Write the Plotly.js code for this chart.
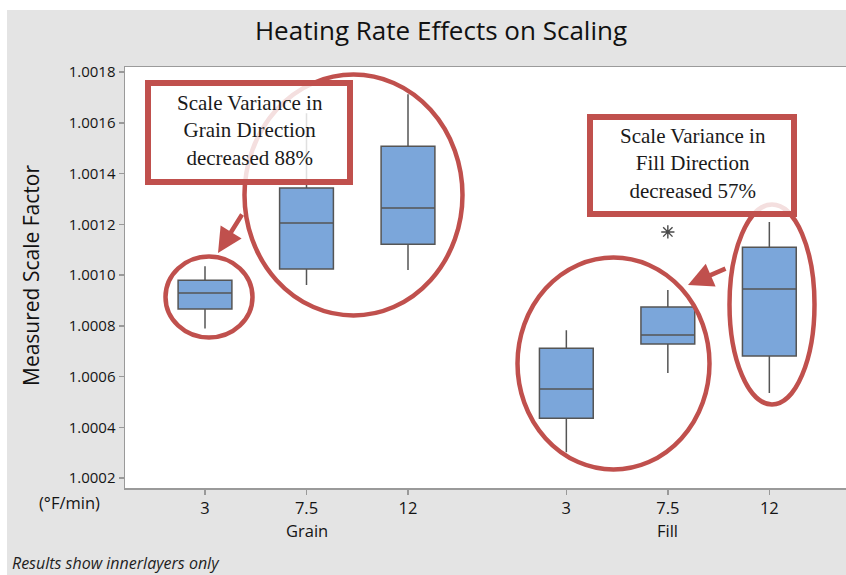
<!DOCTYPE html>
<html>
<head>
<meta charset="utf-8">
<script src="https://cdn.plot.ly/plotly-3.0.1.min.js"></script>
<style>html,body{margin:0;padding:0;background:#fff;}#chart{width:846px;height:575px;}</style>
</head>
<body>
<div id="chart"></div>
<script>
// ---- data ----
const groups = ['Grain', 'Fill'];
const rates = ['3', '7.5', '12'];
const lowerFence = [1.000790, 1.000961, 1.001020, 1.000302, 1.000614, 1.000535];
const q1Values   = [1.000866, 1.001024, 1.001122, 1.000436, 1.000728, 1.000681];
const medians    = [1.000929, 1.001205, 1.001264, 1.000551, 1.000764, 1.000945];
const q3Values   = [1.000980, 1.001343, 1.001508, 1.000712, 1.000874, 1.001110];
const upperFence = [1.001035, 1.001638, 1.001713, 1.000783, 1.000941, 1.001209];
const outlierGroup = ['Fill'];
const outlierRate = ['7.5'];
const outlierValues = [1.00117];
const yTicks = [1.0002, 1.0004, 1.0006, 1.0008, 1.0010, 1.0012, 1.0014, 1.0016, 1.0018];

// ---- layout helpers ----
const groupGap = 3.56;
function pos(g, r) { return groups.indexOf(g) * groupGap + rates.indexOf(r); }
const xs = [], tickText = [];
groups.forEach(g => rates.forEach(r => { xs.push(pos(g, r)); tickText.push(r); }));

// pixel -> paper helpers (plot area: left 125, right 846, top 67, bottom 488)
const L = 125, R = 846, T = 67, B = 488;
const px = v => (v - L) / (R - L);
const py = v => (B - v) / (B - T);

const red = '#c0504d';
const sans = 'Open Sans, Noto Sans, sans-serif';
const yTickFont = {family: sans, size: 15, color: '#141414'};
const xTextFont = {family: sans, size: 16.5, color: '#141414'};

const traces = [
  {
    type: 'box',
    x: xs,
    q1: q1Values, median: medians, q3: q3Values,
    lowerfence: lowerFence, upperfence: upperFence,
    width: 0.53,
    whiskerwidth: 0,
    boxpoints: false,
    fillcolor: '#7ba6da',
    line: {color: '#555555', width: 1.5},
    hoverinfo: 'skip',
    showlegend: false
  },
  {
    type: 'scatter', mode: 'markers',
    x: outlierGroup.map((g, i) => pos(g, outlierRate[i])),
    y: outlierValues,
    marker: {symbol: 'asterisk-open', size: 11, color: '#4a4a4a', line: {color: '#4a4a4a', width: 1.4}},
    hoverinfo: 'skip', showlegend: false
  }
];

function ell(x0, x1, y0, y1) {
  return {type: 'circle', xref: 'paper', yref: 'paper', x0: px(x0), x1: px(x1), y0: py(y1), y1: py(y0),
          line: {color: red, width: 4.5}, layer: 'above'};
}
function rect(x0, x1, y0, y1) {
  return {type: 'rect', xref: 'paper', yref: 'paper', x0: px(x0), x1: px(x1), y0: py(y1), y1: py(y0),
          line: {color: red, width: 6}, fillcolor: 'rgba(255,255,255,0.82)', layer: 'above'};
}

const shapes = [
  // white margins outside the grey panel
  {type: 'rect', xref: 'paper', yref: 'paper', x0: px(0), x1: px(846), y0: py(10), y1: py(-2), fillcolor: '#ffffff', line: {width: 0}, layer: 'below'},
  {type: 'rect', xref: 'paper', yref: 'paper', x0: px(-2), x1: px(7), y0: py(577), y1: py(-2), fillcolor: '#ffffff', line: {width: 0}, layer: 'below'},
  ell(165.5, 252.5, 256.5, 337.5),
  ell(244.5, 462.5, 74.5, 315.5),
  ell(517.5, 709.5, 257.5, 469.5),
  ell(729.5, 814.5, 204.5, 404.5),
  rect(148, 350, 83, 182),
  rect(590, 794, 117, 214)
];

const serif = {family: 'Liberation Serif, Times New Roman, serif', size: 21, color: '#1a1a1a'};
const annotations = [
  {xref: 'paper', yref: 'paper', x: px(250), y: py(130), text: 'Scale Variance in<br>Grain Direction<br>decreased 88%',
   showarrow: false, font: serif, align: 'center', xanchor: 'center', yanchor: 'middle'},
  {xref: 'paper', yref: 'paper', x: px(693), y: py(163), text: 'Scale Variance in<br>Fill Direction<br>decreased 57%',
   showarrow: false, font: serif, align: 'center', xanchor: 'center', yanchor: 'middle'},
  // arrows
  {xref: 'paper', yref: 'paper', x: px(218), y: py(253), ax: 243 - 218, ay: 213 - 253, text: '',
   showarrow: true, arrowhead: 2, arrowsize: 1.1, arrowwidth: 4.5, arrowcolor: red},
  {xref: 'paper', yref: 'paper', x: px(688), y: py(285), ax: 727 - 688, ay: 268 - 285, text: '',
   showarrow: true, arrowhead: 2, arrowsize: 1.1, arrowwidth: 4.5, arrowcolor: red},
  // axis texts
  {xref: 'paper', yref: 'paper', x: px(31), y: py(276), text: 'Measured Scale Factor', textangle: -90,
   showarrow: false, font: {family: sans, size: 21, color: '#111'}, xanchor: 'center', yanchor: 'middle'},
  {xref: 'paper', yref: 'paper', x: px(69), y: py(502), text: '(°F/min)', showarrow: false,
   font: xTextFont, xanchor: 'center', yanchor: 'middle'},
  {xref: 'x', yref: 'paper', x: pos('Grain', '7.5'), y: py(530), text: groups[0], showarrow: false,
   font: xTextFont, xanchor: 'center', yanchor: 'middle'},
  {xref: 'x', yref: 'paper', x: pos('Fill', '7.5'), y: py(530), text: groups[1], showarrow: false,
   font: xTextFont, xanchor: 'center', yanchor: 'middle'},
  {xref: 'paper', yref: 'paper', x: px(10), y: py(563), text: '<i>Results show innerlayers only</i>', showarrow: false,
   font: {family: sans, size: 16, color: '#1e1e1e'}, xanchor: 'left', yanchor: 'middle'}
];

const layout = {
  width: 846, height: 575,
  margin: {l: L, r: 846 - R, t: T, b: 575 - B, pad: 0},
  paper_bgcolor: '#e4e4e4',
  plot_bgcolor: '#ffffff',
  title: {text: 'Heating Rate Effects on Scaling', xref: 'container', yref: 'container',
          x: 441 / 846, y: 1 - 31 / 575, xanchor: 'center', yanchor: 'middle',
          font: {family: sans, size: 26, color: '#111'}},
  xaxis: {
    range: [(L - 205) / 101.5, (R - 205) / 101.5],
    tickvals: xs, ticktext: tickText,
    ticks: 'outside', ticklen: 5, tickcolor: '#999', tickwidth: 1.5,
    showline: true, linecolor: '#9a9a9a', linewidth: 1.5, mirror: true,
    showgrid: false, zeroline: false,
    tickfont: xTextFont
  },
  yaxis: {
    range: [1.000161, 1.00182],
    tickvals: yTicks, tickformat: '.4f',
    ticks: 'outside', ticklen: 5, tickcolor: '#999', tickwidth: 1.5,
    showline: true, linecolor: '#9a9a9a', linewidth: 1.5, mirror: false,
    showgrid: false, zeroline: false,
    tickfont: yTickFont
  },
  shapes: shapes,
  annotations: annotations,
  showlegend: false
};

Plotly.newPlot('chart', traces, layout, {staticPlot: true, displayModeBar: false});
</script>
</body>
</html>
